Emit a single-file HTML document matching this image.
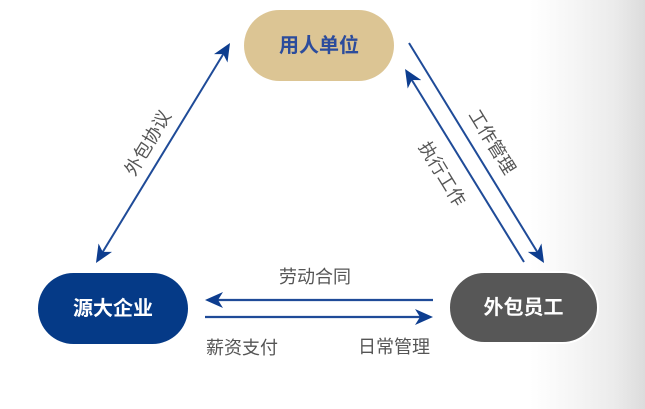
<!DOCTYPE html>
<html>
<head>
<meta charset="utf-8">
<style>
  html, body { margin: 0; padding: 0; }
  body {
    width: 645px; height: 409px; overflow: hidden;
    background: linear-gradient(to right, #ffffff 0px, #ffffff 530px, #f4f4f4 580px, #ebebeb 615px, #dcdcdc 645px);
  }
  svg { display: block; }
  text { font-family: "Liberation Sans", "Noto Sans CJK SC", sans-serif; }
</style>
</head>
<body>
<svg width="645" height="409" viewBox="0 0 645 409" xmlns="http://www.w3.org/2000/svg">
  <defs>
    <marker id="ah" markerUnits="userSpaceOnUse" viewBox="0 0 18 16" refX="12" refY="8" markerWidth="18" markerHeight="16" orient="auto-start-reverse">
      <path d="M18,8 L0,0 L5,8 L0,16 Z" fill="#0d3d8f"/>
    </marker>
  </defs>

  <!-- left diagonal double arrow -->
  <line x1="99.1" y1="257.9" x2="226.9" y2="48.1" stroke="#1f4b98" stroke-width="2" marker-start="url(#ah)" marker-end="url(#ah)"/>

  <!-- right diagonal: 工作管理 -->
  <line x1="409" y1="43" x2="540.9" y2="257.9" stroke="#1f4b98" stroke-width="2" marker-end="url(#ah)"/>
  <!-- right diagonal: 执行工作 -->
  <line x1="524" y1="262" x2="408.2" y2="74.1" stroke="#1f4b98" stroke-width="2" marker-end="url(#ah)"/>

  <!-- horizontal arrows -->
  <line x1="433" y1="300" x2="211" y2="300" stroke="#1f4b98" stroke-width="2.2" marker-end="url(#ah)"/>
  <line x1="205" y1="317" x2="427" y2="317" stroke="#1f4b98" stroke-width="2.2" marker-end="url(#ah)"/>

  <!-- nodes -->
  <rect x="244" y="10" width="150" height="71" rx="35.5" ry="35.5" fill="#dcc594"/>
  <text x="319" y="46" font-size="20" font-weight="bold" fill="#2c4c9c" text-anchor="middle" dominant-baseline="central">用人单位</text>

  <rect x="38" y="273" width="150" height="71" rx="35.5" ry="35.5" fill="#053a87"/>
  <text x="113" y="309" font-size="20" font-weight="bold" fill="#ffffff" text-anchor="middle" dominant-baseline="central">源大企业</text>

  <rect x="449" y="272" width="149" height="71" rx="35.5" ry="35.5" fill="#575757" stroke="#ffffff" stroke-width="2"/>
  <text x="523.5" y="308" font-size="20" font-weight="bold" fill="#ffffff" text-anchor="middle" dominant-baseline="central">外包员工</text>

  <!-- labels -->
  <text x="315" y="277" font-size="18" fill="#555555" text-anchor="middle" dominant-baseline="central">劳动合同</text>
  <text x="242" y="348" font-size="18" fill="#555555" text-anchor="middle" dominant-baseline="central">薪资支付</text>
  <text x="394" y="347" font-size="18" fill="#555555" text-anchor="middle" dominant-baseline="central">日常管理</text>

  <text x="148" y="143" font-size="18" fill="#555555" text-anchor="middle" dominant-baseline="central" transform="rotate(-59 148 143)">外包协议</text>
  <text x="492" y="142" font-size="18" fill="#555555" text-anchor="middle" dominant-baseline="central" transform="rotate(58.5 492 142)">工作管理</text>
  <text x="442" y="174" font-size="18" fill="#555555" text-anchor="middle" dominant-baseline="central" transform="rotate(58.5 442 174)">执行工作</text>
</svg>
</body>
</html>
